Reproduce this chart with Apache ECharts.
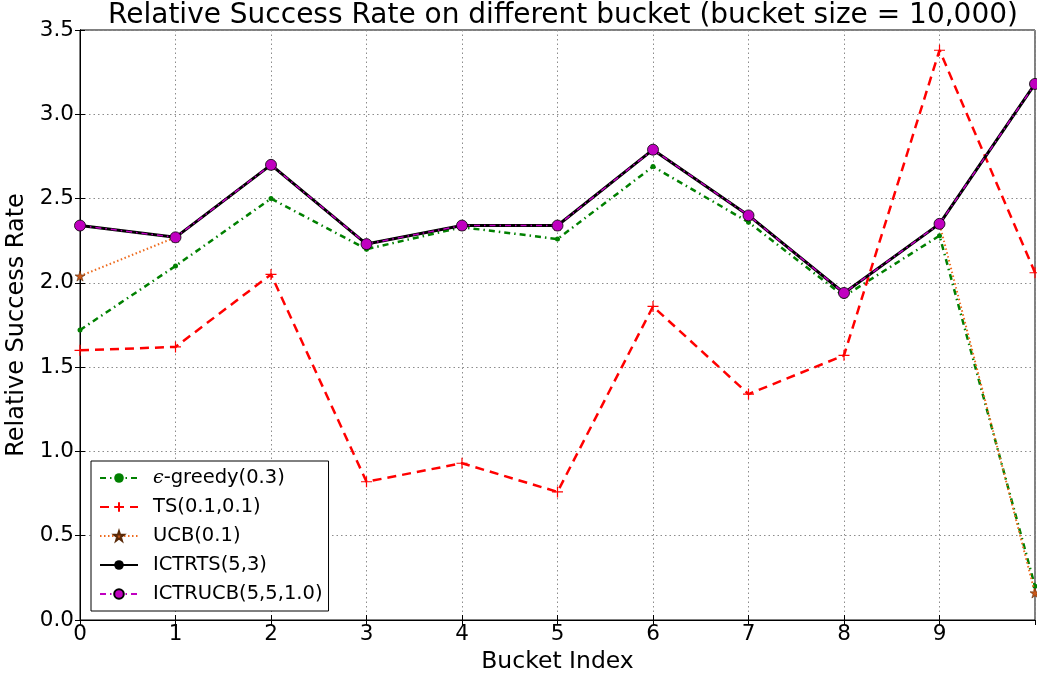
<!DOCTYPE html>
<html>
<head>
<meta charset="utf-8">
<script src="https://cdn.jsdelivr.net/npm/echarts@6/dist/echarts.min.js"></script>
<style>
  html, body { margin: 0; padding: 0; background: #fff; }
  #chart { width: 1037px; height: 676px; }
</style>
</head>
<body>
<div id="chart"></div>
<script>
// Bucket indices on the x axis
const buckets = [0, 1, 2, 3, 4, 5, 6, 7, 8, 9, 10];

// Relative success rate per bucket for each policy
const greedy  = [1.72, 2.10, 2.50, 2.20, 2.33, 2.26, 2.69, 2.36, 1.92, 2.28, 0.20];
const ts      = [1.60, 1.62, 2.05, 0.82, 0.93, 0.76, 1.86, 1.34, 1.57, 3.38, 2.06];
const ucb     = [2.04, 2.27, 2.70, 2.23, 2.34, 2.34, 2.79, 2.40, 1.94, 2.35, 0.16];
const ictrts  = [2.34, 2.27, 2.70, 2.23, 2.34, 2.34, 2.79, 2.40, 1.94, 2.35, 3.18];
const ictrucb = [2.34, 2.27, 2.70, 2.23, 2.34, 2.34, 2.79, 2.40, 1.94, 2.35, 3.18];

const names = ['ϵ-greedy(0.3)', 'TS(0.1,0.1)', 'UCB(0.1)', 'ICTRTS(5,3)', 'ICTRUCB(5,5,1.0)'];

const FONT = 'DejaVu Sans';
const pairs = arr => buckets.map((b, i) => [b, arr[i]]);

const PLUS = 'path://M0,5L10,5M5,0L5,10';
const STAR = 'path://M50,0L61.8,35.3L98.9,35.3L68.9,57.1L80.3,92.4L50,70.6L19.7,92.4L31.1,57.1L1.1,35.3L38.2,35.3Z';

const chart = echarts.init(document.getElementById('chart'), null, { renderer: 'canvas' });

const tickStyle = { inside: true, length: 5, lineStyle: { color: '#000', width: 1 } };

chart.setOption({
  animation: false,
  backgroundColor: '#fff',
  title: {
    text: 'Relative Success Rate on different bucket (bucket size = 10,000)',
    left: 558, top: -3, textAlign: 'center',
    textStyle: { fontFamily: FONT, fontSize: 28, fontWeight: 'normal', color: '#000' }
  },
  grid: {
    left: 80, right: 2, top: 30, bottom: 56,
    outerBoundsMode: 'none', containLabel: false,
    show: true, borderColor: '#000', borderWidth: 1, backgroundColor: '#fff'
  },
  legend: {
    orient: 'vertical', left: 91, top: 461,
    data: names,
    backgroundColor: '#fff', borderColor: '#000', borderWidth: 1,
    padding: [7, 6, 7, 8],
    itemWidth: 38, itemHeight: 12, itemGap: 9,
    textStyle: {
      fontFamily: FONT, fontSize: 19.5, color: '#000', padding: [0, 0, 0, 10],
      rich: { e: { fontFamily: 'DejaVu Serif', fontStyle: 'italic', fontSize: 19 } }
    },
    formatter: n => n.startsWith('ϵ') ? '{e|ϵ}' + n.slice(1) : n
  },
  xAxis: [{
    type: 'value', min: 0, max: 10, interval: 1,
    name: 'Bucket Index', nameLocation: 'middle', nameGap: 30,
    nameTextStyle: { fontFamily: FONT, fontSize: 23.5, color: '#000' },
    axisLine: { show: true, lineStyle: { color: '#000', width: 1 } },
    axisTick: tickStyle,
    axisLabel: { fontFamily: FONT, fontSize: 21.5, color: '#000', margin: 3, showMaxLabel: false },
    splitLine: { show: true, lineStyle: { color: '#8c8c8c', width: 1, type: [1.5, 3] } }
  }, {
    type: 'value', min: 0, max: 10, interval: 1, position: 'top',
    axisLine: { show: true, lineStyle: { color: '#000' } },
    axisTick: tickStyle, axisLabel: { show: false }, splitLine: { show: false }
  }],
  yAxis: [{
    type: 'value', min: 0, max: 3.5, interval: 0.5,
    name: 'Relative Success Rate', nameLocation: 'middle', nameGap: 45,
    nameTextStyle: { fontFamily: FONT, fontSize: 24, color: '#000' },
    axisLine: { show: true, lineStyle: { color: '#000', width: 1 } },
    axisTick: tickStyle,
    axisLabel: { fontFamily: FONT, fontSize: 21.5, color: '#000', margin: 6, formatter: v => v.toFixed(1) },
    splitLine: { show: true, lineStyle: { color: '#8c8c8c', width: 1, type: [1.5, 3] } }
  }, {
    type: 'value', min: 0, max: 3.5, interval: 0.5, position: 'right',
    axisLine: { show: true, lineStyle: { color: '#000' } },
    axisTick: tickStyle, axisLabel: { show: false }, splitLine: { show: false }
  }],
  series: [
    {
      name: names[0], type: 'line', data: pairs(greedy), z: 2,
      symbol: 'circle', symbolSize: 5, showAllSymbol: true,
      itemStyle: { color: '#008000' },
      lineStyle: { color: '#008000', width: 2.5, type: [6, 4, 1.5, 4] }
    },
    {
      name: names[1], type: 'line', data: pairs(ts), z: 3,
      symbol: PLUS, symbolSize: 11,
      itemStyle: { color: '#ff0000', borderColor: '#ff0000', borderWidth: 1.2 },
      lineStyle: { color: '#ff0000', width: 2.5, type: [9, 6] }
    },
    {
      name: names[2], type: 'line', data: pairs(ucb), z: 4,
      symbol: STAR, symbolSize: 10,
      itemStyle: { color: '#c8581a', borderColor: '#5a2a08', borderWidth: 0.6 },
      lineStyle: { color: '#ee6a1c', width: 2, type: [1.5, 2.5] }
    },
    {
      name: names[3], type: 'line', data: pairs(ictrts), z: 5,
      symbol: 'circle', symbolSize: 5,
      itemStyle: { color: '#000' },
      lineStyle: { color: '#000', width: 3 }
    },
    {
      name: names[4], type: 'line', data: pairs(ictrucb), z: 6,
      symbol: 'circle', symbolSize: 11,
      itemStyle: { color: '#c000c0', borderColor: '#000', borderWidth: 0.8 },
      lineStyle: { color: '#c000c0', width: 1.5, type: [6, 4, 1.5, 4] }
    }
  ]
});
</script>
</body>
</html>
